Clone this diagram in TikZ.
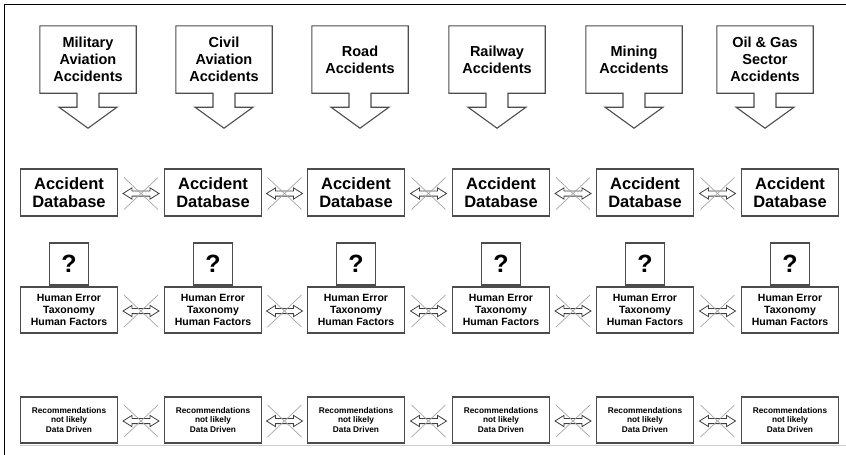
\documentclass[tikz,border=0pt]{standalone}
\usepackage{fontspec}
\setmainfont{Liberation Sans}
\usetikzlibrary{calc,shapes.arrows}
\tikzset{
	outline/.style={draw=black!70,line width=1.1pt},
	srcbox/.style={minimum width=96pt,minimum height=67pt,inner sep=0pt,align=center,font=\bfseries\fontsize{14.5}{17}\selectfont},
	dbbox/.style={outline,minimum width=97pt,minimum height=47pt,inner sep=0pt,align=center,font=\bfseries\fontsize{16.5}{18}\selectfont},
	qbox/.style={outline,minimum width=39pt,minimum height=42pt,inner sep=0pt,font=\bfseries\fontsize{25}{25}\selectfont},
	hebox/.style={outline,minimum width=97pt,minimum height=46pt,inner sep=0pt,align=center,font=\bfseries\fontsize{10.5}{12}\selectfont},
	recbox/.style={outline,minimum width=97pt,minimum height=46pt,inner sep=0pt,align=center,font=\bfseries\fontsize{8.3}{9.2}\selectfont},
	link/.style={double arrow,draw=black!75,fill=white,line width=0.8pt,minimum height=36pt,minimum width=11pt,inner xsep=0pt,inner ysep=2.2pt,double arrow head extend=3pt,double arrow head indent=0pt,double arrow tip angle=64},
	cross/.style={draw=black!35,line width=0.7pt}
}
\begin{document}
\begin{tikzpicture}[x=1pt,y=-1pt]
	\useasboundingbox (0,0) rectangle (846,455);
	\draw[line width=1.3pt] (4.5,455) -- (4.5,4.5) -- (846,4.5);
	\draw[black!20] (20,445) -- (846,445);
	\foreach \k/\cx/\bx/\txt in {1/88/69/{Military\\Aviation\\Accidents},2/224/213/{Civil\\Aviation\\Accidents},3/360/356/{Road\\Accidents},4/497/501/{Railway\\Accidents},5/634/645/{Mining\\Accidents},6/765/790/{Oil {\&} Gas\\Sector\\Accidents}}{
		\node[srcbox] (src\k) at (\cx,59.5) {\txt};
		\draw[outline] ($(src\k.south)+(-11,0)$) -| (src\k.north west) -| (src\k.south east) -- ($(src\k.south)+(11,0)$) -- ++(0,14) -- ++(18,0) -- ($(src\k.south)+(0,35)$) -- ++(-29,-21) -- ++(18,0) -- cycle;
		\node[dbbox] (db\k) at (\bx,192.5) {Accident\\Database};
		\node[qbox] (q\k) at (\bx,264) {?};
		\node[hebox] (he\k) at (\bx,310) {Human Error\\Taxonomy\\Human Factors};
		\node[recbox] (rec\k) at (\bx,420) {Recommendations\\not likely\\Data Driven};
	}
	\foreach \row in {db,he,rec}{
		\foreach \k/\m in {1/2,2/3,3/4,4/5,5/6}{
			\node[link] (\row l\k) at ($(\row\k.east)!0.5!(\row\m.west)+(0,1)$) {};
			\draw[cross] ($(\row l\k)+(-17,-16)$) -- ($(\row l\k)+(17,16)$);
			\draw[cross] ($(\row l\k)+(-17,16)$) -- ($(\row l\k)+(17,-16)$);
		}
	}
\end{tikzpicture}
\end{document}
